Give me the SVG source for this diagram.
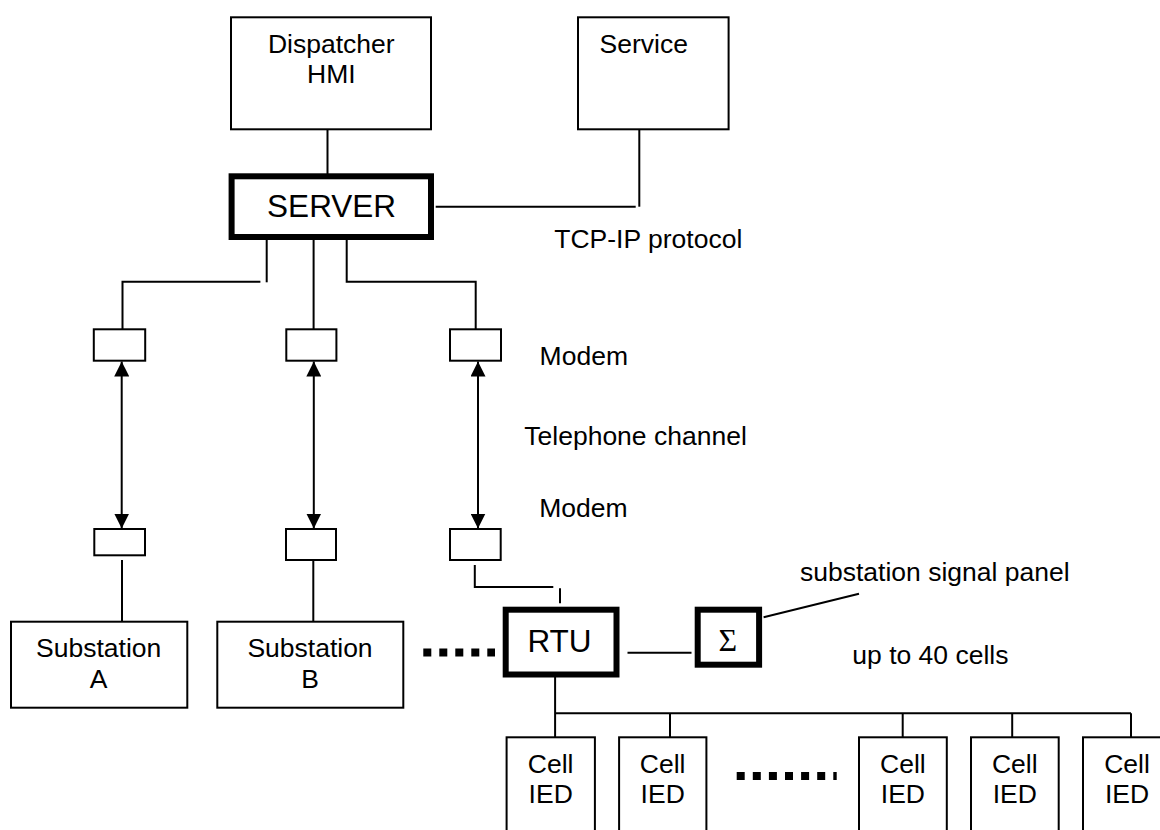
<svg xmlns="http://www.w3.org/2000/svg" width="1160" height="830" viewBox="0 0 1160 830">
<defs>
<style>
text{font-family:"Liberation Sans",Arial,sans-serif;fill:#000}
.lbl{font-size:26.5px}
.big{font-size:31.5px}
.c{text-anchor:middle}
.box{fill:#fff;stroke:#000;stroke-width:2}
.thick{fill:#fff;stroke:#000;stroke-width:6}
.ln{fill:none;stroke:#000;stroke-width:2}
.dots{fill:none;stroke:#000;stroke-width:8}
</style>
<marker id="ah" viewBox="0 0 10 10" refX="10" refY="5" markerWidth="15" markerHeight="15" markerUnits="userSpaceOnUse" orient="auto-start-reverse">
<path d="M0,0 L10,5 L0,10 Z" fill="#000"/>
</marker>
</defs>
<rect width="1160" height="830" fill="#fff"/>

<g id="connectors">
<line class="ln" x1="327.5" y1="129.3" x2="327.5" y2="176"/>
<polyline class="ln" points="639.3,129.3 639.3,206.7"/>
<line class="ln" x1="435.7" y1="206.7" x2="635.7" y2="206.7"/>
<line class="ln" x1="266.7" y1="234" x2="266.7" y2="282.3"/>
<polyline class="ln" points="260.4,281.7 122.5,281.7 122.5,329.3"/>
<line class="ln" x1="313.6" y1="240" x2="313.6" y2="329.3"/>
<polyline class="ln" points="346.7,234 346.7,281.7 475.7,281.7 475.7,329.3"/>
<line class="ln" x1="121.7" y1="361.5" x2="121.7" y2="528.5" marker-start="url(#ah)" marker-end="url(#ah)"/>
<line class="ln" x1="313.8" y1="361.5" x2="313.8" y2="528.5" marker-start="url(#ah)" marker-end="url(#ah)"/>
<line class="ln" x1="478" y1="361.5" x2="478" y2="528.5" marker-start="url(#ah)" marker-end="url(#ah)"/>
<line class="ln" x1="122" y1="560" x2="122" y2="621.7"/>
<line class="ln" x1="313.3" y1="560" x2="313.3" y2="621.7"/>
<polyline class="ln" points="474.8,565 474.8,587 553.3,587"/>
<line class="ln" x1="560" y1="588.3" x2="560" y2="603.3"/>
<line class="dots" x1="423.3" y1="652.5" x2="495" y2="652.5" stroke-dasharray="8 8"/>
<line class="ln" x1="627.5" y1="652.7" x2="691.5" y2="652.7"/>
<line class="ln" x1="763.6" y1="617.3" x2="859" y2="593.8"/>
<line class="ln" x1="555.1" y1="665" x2="555.1" y2="737.3"/>
<line class="ln" x1="555.1" y1="713.3" x2="1131" y2="713.3"/>
<line class="ln" x1="670" y1="713.3" x2="670" y2="737.3"/>
<line class="ln" x1="902.7" y1="713.3" x2="902.7" y2="737.3"/>
<line class="ln" x1="1012.2" y1="713.3" x2="1012.2" y2="737.3"/>
<line class="ln" x1="1131" y1="713.3" x2="1131" y2="737.3"/>
<line class="dots" x1="736.7" y1="776" x2="836.7" y2="776" stroke-dasharray="8 8.1"/>
</g>

<g id="dispatcher-hmi">
<rect class="box" x="231" y="17.3" width="200" height="112"/>
<text class="lbl c" x="331.3" y="53.3">Dispatcher</text>
<text class="lbl c" x="331.3" y="83.3">HMI</text>
</g>
<g id="service">
<rect class="box" x="578" y="17.3" width="150.6" height="112"/>
<text class="lbl" x="599.6" y="53.3">Service</text>
</g>
<g id="server">
<rect class="thick" x="231.6" y="176.3" width="199.4" height="60.7"/>
<line class="ln" x1="266.7" y1="234" x2="266.7" y2="240"/>
<line class="ln" x1="346.7" y1="234" x2="346.7" y2="240"/>
<text class="big c" x="331.6" y="217">SERVER</text>
</g>
<g id="label-tcp">
<text class="lbl" x="554.3" y="248.3">TCP-IP protocol</text>
</g>

<g id="modem-a-top"><rect class="box" x="93.8" y="329.3" width="51.4" height="31.4"/></g>
<g id="modem-b-top"><rect class="box" x="286.3" y="329.3" width="50.1" height="31.4"/></g>
<g id="modem-c-top"><rect class="box" x="450" y="329.3" width="51" height="31.4"/></g>
<g id="modem-a-bottom"><rect class="box" x="94.3" y="529" width="50.7" height="26.3"/></g>
<g id="modem-b-bottom"><rect class="box" x="286" y="529" width="50" height="31"/></g>
<g id="modem-c-bottom"><rect class="box" x="450" y="529" width="50.7" height="31"/></g>

<g id="labels">
<text class="lbl" x="539.6" y="365">Modem</text>
<text class="lbl" x="524.3" y="445">Telephone channel</text>
<text class="lbl" x="539.3" y="517.3">Modem</text>
<text class="lbl" x="800" y="581">substation signal panel</text>
<text class="lbl" x="852.3" y="664">up to 40 cells</text>
</g>

<g id="substation-a">
<rect class="box" x="11" y="621.7" width="176.3" height="86"/>
<text class="lbl c" x="98.7" y="656.7">Substation</text>
<text class="lbl c" x="98.7" y="688.3">A</text>
</g>
<g id="substation-b">
<rect class="box" x="217.3" y="621.7" width="186" height="86"/>
<text class="lbl c" x="310" y="656.7">Substation</text>
<text class="lbl c" x="310" y="688.3">B</text>
</g>

<g id="rtu">
<rect class="thick" x="505.7" y="609.7" width="110.8" height="64.8"/>
<text class="big c" x="559.5" y="651.7">RTU</text>
</g>
<g id="signal-panel">
<rect class="thick" x="697.7" y="609.7" width="61.4" height="55"/>
<text x="727.7" y="651" class="c" style="font-family:'Liberation Serif','Times New Roman',serif;font-size:32px">Σ</text>
</g>

<g id="cell-1">
<rect class="box" x="506.6" y="737.3" width="88.3" height="110"/>
<text class="lbl c" x="550.7" y="773.3">Cell</text>
<text class="lbl c" x="550.7" y="803.3">IED</text>
</g>
<g id="cell-2">
<rect class="box" x="619.1" y="737.3" width="87.3" height="110"/>
<text class="lbl c" x="662.7" y="773.3">Cell</text>
<text class="lbl c" x="662.7" y="803.3">IED</text>
</g>
<g id="cell-3">
<rect class="box" x="859" y="737.3" width="87.8" height="110"/>
<text class="lbl c" x="902.9" y="773.3">Cell</text>
<text class="lbl c" x="902.9" y="803.3">IED</text>
</g>
<g id="cell-4">
<rect class="box" x="971" y="737.3" width="87.7" height="110"/>
<text class="lbl c" x="1014.8" y="773.3">Cell</text>
<text class="lbl c" x="1014.8" y="803.3">IED</text>
</g>
<g id="cell-5">
<rect class="box" x="1083" y="737.3" width="88" height="110"/>
<text class="lbl c" x="1127" y="773.3">Cell</text>
<text class="lbl c" x="1127" y="803.3">IED</text>
</g>
</svg>
